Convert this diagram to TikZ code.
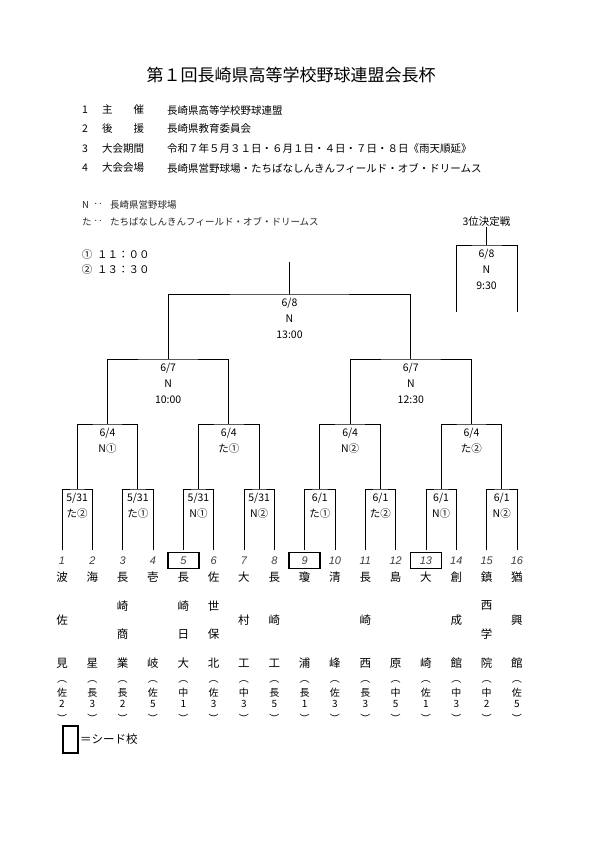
\documentclass[tikz,border=0pt]{standalone}
\usepackage{fontspec}
\setmainfont{Noto Sans CJK JP}
\newfontfamily\chiffres{Liberation Sans}
\begin{document}
\begin{tikzpicture}[x=1pt,y=-1pt]
		% Styles (MODIFIABLES)
		\tikzstyle{trait}=[-,line width=0.8pt,black]
		\tikzstyle{rencontre}=[align=center,anchor=base,inner sep=0pt,font=\fontsize{10.5}{15.8}\selectfont]
		\tikzstyle{numero}=[inner sep=0pt,text=black!75,font=\chiffres\itshape\fontsize{11}{12}\selectfont]
		\tikzstyle{tete}=[draw,line width=1.6pt,minimum width=31pt,minimum height=16pt,inner sep=0pt]
		\tikzstyle{ecole}=[inner sep=0pt,font=\fontsize{11.5}{12}\selectfont]
		\tikzstyle{district}=[inner sep=0pt,font=\fontsize{10}{11}\selectfont]
		\tikzstyle{entete}=[anchor=west,inner sep=0pt,font=\fontsize{10.5}{12}\selectfont]
		\tikzstyle{legende}=[anchor=west,inner sep=0pt,text=black!85,font=\fontsize{9.5}{11}\selectfont]
		% Dimensions (MODIFIABLES)
		\def\EcartEquipes{30.33}
		\def\Gauche{62}
		\def\NiveauA{550}
		\def\NiveauB{489}
		\def\NiveauC{424}
		\def\NiveauD{359}
		\def\NiveauE{294}
		\def\NiveauF{262}
		% Dimensions calculees (NON MODIFIABLES)
		\def\TexteDeux{28.3}
		\def\TexteTrois{44.1}
		\useasboundingbox (0,0) rectangle (593,841);
		% En-tete
		\node[font=\fontsize{17}{20}\selectfont] (titre) at (291,75) {第１回長崎県高等学校野球連盟会長杯};
		\foreach \k/\y/\lab/\val in {1/110/主　　催/長崎県高等学校野球連盟,
			2/129/後　　援/長崎県教育委員会,
			3/149/大会期間/{令和７年５月３１日・６月１日・４日・７日・８日《雨天順延》},
			4/168/大会会場/{長崎県営野球場・たちばなしんきんフィールド・オブ・ドリームス}}{
			\node[entete,anchor=center] (num\k) at (85,\y) {\k};
			\node[entete] (lab\k) at (102,\y) {\lab};
			\node[entete] (val\k) at (167,\y) {\val};
		}
		% Legendes
		\node[legende] (cleN) at (82,205) {N};
		\node[legende,anchor=center] (ptN) at (98,205) {‥};
		\node[legende] (lieuN) at (110,205) {長崎県営野球場};
		\node[legende] (cleT) at (82,222) {た};
		\node[legende,anchor=center] (ptT) at (98,222) {‥};
		\node[legende] (lieuT) at (110,222) {たちばなしんきんフィールド・オブ・ドリームス};
		\node[entete,anchor=center] (heure1) at (87,255) {①};
		\node[entete] (h1) at (97,255) {１１：００};
		\node[entete,anchor=center] (heure2) at (87,270) {②};
		\node[entete] (h2) at (97,270) {１３：３０};
		% Noeuds
		\foreach \i in {1,...,16}{
			\coordinate (t\i) at ({\Gauche+(\i-1)*\EcartEquipes},\NiveauA);
			\node[numero] (n\i) at ({\Gauche+(\i-1)*\EcartEquipes},561) {\i};
		}
		\foreach \i in {5,9,13}
			\node[tete] (g\i) at ([yshift=0.5pt]n\i) {};
		\foreach \j in {1,...,8}
			\coordinate (A\j) at ({\Gauche+(2*\j-1.5)*\EcartEquipes},\NiveauB);
		\foreach \j in {1,...,4}
			\coordinate (B\j) at ({\Gauche+(4*\j-2.5)*\EcartEquipes},\NiveauC);
		\foreach \j in {1,2}
			\coordinate (C\j) at ({\Gauche+(8*\j-4.5)*\EcartEquipes},\NiveauD);
		\coordinate (D) at ({\Gauche+7.5*\EcartEquipes},\NiveauE);
		\coordinate (sommet) at ({\Gauche+7.5*\EcartEquipes},\NiveauF);
		% Matchs
		\foreach \j/\txt in {1/{5/31\\た②},2/{5/31\\た①},3/{5/31\\N①},4/{5/31\\N②},
			5/{6/1\\た①},6/{6/1\\た②},7/{6/1\\N①},8/{6/1\\N②}}
			\node[rencontre] (lA\j) at ([yshift=-\TexteDeux pt]A\j) {\txt};
		\foreach \j/\txt in {1/{6/4\\N①},2/{6/4\\た①},3/{6/4\\N②},4/{6/4\\た②}}
			\node[rencontre] (lB\j) at ([yshift=-\TexteDeux pt]B\j) {\txt};
		\node[rencontre] (lC1) at ([yshift=-\TexteTrois pt]C1) {6/7\\N\\10:00};
		\node[rencontre] (lC2) at ([yshift=-\TexteTrois pt]C2) {6/7\\N\\12:30};
		\node[rencontre] (lD) at ([yshift=-\TexteTrois pt]D) {6/8\\N\\13:00};
		% 3e place
		\node[entete,anchor=center] (titre3) at (486.5,222) {3位決定戦};
		\coordinate (E) at (486.5,245);
		\coordinate (E1) at (456,312);
		\coordinate (E2) at (517,312);
		\node[rencontre] (lE) at ([yshift=-\TexteTrois pt]E) {6/8\\N\\9:30};
		% Ecoles
		\foreach \i/\nb/\noms in {1/3/{波,佐,見},2/2/{海,星},3/4/{長,崎,商,業},4/2/{壱,岐},
			5/4/{長,崎,日,大},6/4/{佐,世,保,北},7/3/{大,村,工},8/3/{長,崎,工},
			9/2/{瓊,浦},10/2/{清,峰},11/3/{長,崎,西},12/2/{島,原},
			13/2/{大,崎},14/3/{創,成,館},15/4/{鎮,西,学,院},16/3/{猶,興,館}}{
			\foreach \c [count=\k from 0] in \noms
				\node[ecole] (e\i-\k) at ({\Gauche+(\i-1)*\EcartEquipes},{577+\k*86/(\nb-1)}) {\c};
		}
		\foreach \i/\d/\c in {1/佐/2,2/長/3,3/長/2,4/佐/5,5/中/1,6/佐/3,7/中/3,8/長/5,
			9/長/1,10/佐/3,11/長/3,12/中/5,13/佐/1,14/中/3,15/中/2,16/佐/5}{
			\node[district] (po\i) at ({\Gauche+(\i-1)*\EcartEquipes},682) {︵};
			\node[district] (d\i) at ({\Gauche+(\i-1)*\EcartEquipes},693) {\d};
			\node[district] (c\i) at ({\Gauche+(\i-1)*\EcartEquipes},704) {\c};
			\node[district] (pf\i) at ({\Gauche+(\i-1)*\EcartEquipes},718) {︶};
		}
		% Cle
		\node[draw,line width=1.6pt,minimum width=15pt,minimum height=27pt,inner sep=0pt] (cle) at (70.5,739.5) {};
		\node[entete,font=\fontsize{11.5}{13}\selectfont] (cletexte) at (80,739) {＝シード校};
		% Arcs (MODIFIABLES : Styles)
		\foreach \j [evaluate=\j as \a using int(2*\j-1), evaluate=\j as \b using int(2*\j)] in {1,...,8}
			\draw[trait] (t\a) |- (A\j) -| (t\b);
		\foreach \j [evaluate=\j as \a using int(2*\j-1), evaluate=\j as \b using int(2*\j)] in {1,...,4}
			\draw[trait] (A\a) |- (B\j) -| (A\b);
		\draw[trait] (B1) |- (C1) -| (B2);
		\draw[trait] (B3) |- (C2) -| (B4);
		\draw[trait] (C1) |- (D) -| (C2);
		\draw[trait] (D) -- (sommet);
		\draw[trait] (titre3.south) -- (E);
		\draw[trait] (E1) |- (E) -| (E2);
	\end{tikzpicture}
\end{document}
